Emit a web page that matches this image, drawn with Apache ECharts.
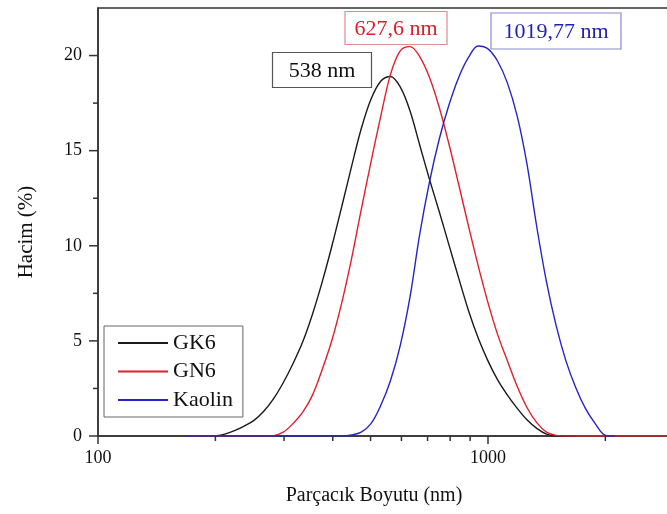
<!DOCTYPE html>
<html>
<head>
<meta charset="utf-8">
<title>Parçacık Boyutu Dağılımı</title>
<script src="https://cdn.jsdelivr.net/npm/echarts@6/dist/echarts.min.js"></script>
<style>
  html, body { margin: 0; padding: 0; background: #fff; }
  #chart { width: 667px; height: 514px; }
</style>
</head>
<body>
<div id="chart"></div>
<script>
// Particle size classes (nm), log-spaced
const sizes = [167.9, 177.8, 188.4, 199.5, 211.3, 223.9, 237.1, 251.2, 266.1, 281.8,
  298.5, 316.2, 335.0, 354.8, 375.8, 398.1, 421.7, 446.7, 473.2, 501.2,
  530.9, 562.3, 595.7, 631.0, 668.3, 707.9, 749.9, 794.3, 841.4, 891.3,
  944.1, 1000, 1059, 1122, 1189, 1259, 1334, 1413, 1496, 1585,
  1679, 1778, 1884, 1995, 2113, 2239, 2371, 2512, 2661, 2818, 2985];

// Volume (%) per size class
const gk6 = [null, null, null, 0, 0.1, 0.28, 0.52, 0.82, 1.3, 1.95,
  2.8, 3.8, 4.95, 6.4, 8.1, 10.0, 12.05, 14.15, 16.15, 17.7,
  18.65, 18.9, 18.35, 17.1, 15.3, 13.5, 11.8, 10.05, 8.3, 6.6,
  5.15, 3.95, 2.95, 2.15, 1.45, 0.85, 0.4, 0.1, 0, 0,
  0, null, null, null, null, null, null, null, null, null, null];

const gn6 = [0, 0, 0, 0, 0, 0, 0, 0, 0, 0.02,
  0.2, 0.65, 1.25, 2.15, 3.5, 5.05, 7.0, 9.3, 11.9, 14.4,
  16.8, 19.0, 20.25, 20.47, 19.95, 18.86, 17.28, 15.35, 13.22, 11.04,
  8.94, 7.01, 5.33, 3.94, 2.6, 1.5, 0.7, 0.2, 0.03, 0,
  0, 0, 0, 0, 0, 0, 0, 0, 0, 0, 0];

const kaolin = [0, 0, 0, 0, 0, 0, 0, 0, 0, 0,
  0, 0, 0, 0, 0, 0, 0, 0.05, 0.2, 0.65,
  1.6, 2.9, 4.75, 7.3, 10.6, 13.35, 15.6, 17.4, 18.85, 19.9,
  20.5, 20.35, 19.7, 18.55, 16.8, 14.3, 11.0, 8.1, 5.8, 3.95,
  2.55, 1.45, 0.65, 0.05, 0, null, null, null, null, null, null];

const seriesNames = ['GK6', 'GN6', 'Kaolin'];
const seriesColors = ['#1a1a1a', '#e0202c', '#2424c8'];

// Axis ticks and labels
const xMajorTicks = [100, 1000];
const xMinorTicks = [200, 300, 400, 500, 600, 700, 800, 900, 2000, 3000];
const yTicks = [0, 2.5, 5, 7.5, 10, 12.5, 15, 17.5, 20];

// Mean size annotations
const annotations = ['538 nm', '627,6 nm', '1019,77 nm'];

const SERIF = '"Liberation Serif", "Times New Roman", serif';
const AXIS_COLOR = '#333';

const chart = echarts.init(document.getElementById('chart'), null, { renderer: 'canvas' });

function pairs(vals) {
  return sizes.map((s, i) => [s, vals[i]]);
}

const lineSeries = [gk6, gn6, kaolin].map((vals, i) => ({
  name: seriesNames[i],
  type: 'line',
  data: pairs(vals),
  smooth: 0.35,
  symbol: 'none',
  showSymbol: false,
  connectNulls: false,
  lineStyle: { color: seriesColors[i], width: 1.4 },
  itemStyle: { color: seriesColors[i] },
  z: 3 + i
}));

// Minor ticks on the log axis (2..9 per decade) and all y ticks
const xTickSeries = {
  type: 'custom',
  silent: true,
  clip: false,
  data: xMinorTicks.map(v => [v, 0]),
  renderItem(params, api) {
    const p = api.coord([api.value(0), api.value(1)]);
    return {
      type: 'line',
      shape: { x1: p[0], y1: p[1], x2: p[0], y2: p[1] + 5 },
      style: { stroke: AXIS_COLOR, lineWidth: 1.5 }
    };
  },
  z: 10
};

const yTickSeries = {
  type: 'custom',
  silent: true,
  clip: false,
  data: yTicks.map(v => [100, v]),
  renderItem(params, api) {
    const v = api.value(1);
    const p = api.coord([api.value(0), v]);
    const len = (v % 5 === 0) ? 9 : 5;
    return {
      type: 'line',
      shape: { x1: p[0] - len, y1: p[1], x2: p[0], y2: p[1] },
      style: { stroke: AXIS_COLOR, lineWidth: 1.5 }
    };
  },
  z: 10
};

// Annotation boxes
const boxStyles = [
  { cx: 322, cy: 70, w: 99, h: 35, text: '#111', border: '#555' },
  { cx: 396, cy: 28, w: 102, h: 33, text: '#d9202a', border: '#e58a8e' },
  { cx: 556, cy: 31, w: 130, h: 36, text: '#2222b0', border: '#8a8ad0' }
];
const graphics = [];
annotations.forEach((t, i) => {
  const b = boxStyles[i];
  graphics.push({
    type: 'rect',
    shape: { x: b.cx - b.w / 2, y: b.cy - b.h / 2, width: b.w, height: b.h },
    style: { fill: '#fff', stroke: b.border, lineWidth: 1.2 },
    z: 50
  });
  graphics.push({
    type: 'text',
    x: b.cx, y: b.cy + 1,
    style: {
      text: t, fill: b.text, font: '22px ' + SERIF,
      align: 'center', verticalAlign: 'middle'
    },
    z: 51
  });
});

const option = {
  backgroundColor: '#fff',
  animation: false,
  grid: {
    left: 98, top: 8, width: 576, height: 428,
    containLabel: false,
    outerBoundsMode: 'none',
    show: true, borderColor: AXIS_COLOR, borderWidth: 1.5,
    backgroundColor: 'transparent'
  },
  legend: {
    data: seriesNames,
    orient: 'vertical',
    left: 104, top: 326,
    itemWidth: 50, itemHeight: 14, itemGap: 4.5,
    padding: [5, 10, 5, 13],
    borderColor: '#666', borderWidth: 1,
    backgroundColor: '#fff',
    itemStyle: { opacity: 0 },
    textStyle: { fontFamily: SERIF, fontSize: 22, color: '#111', lineHeight: 24 },
    selectedMode: false
  },
  xAxis: {
    type: 'log',
    logBase: 10,
    min: 100, max: 3000,
    name: 'Parçacık Boyutu (nm)',
    nameLocation: 'middle',
    nameGap: 50,
    nameTextStyle: { fontFamily: SERIF, fontSize: 20, color: '#111', padding: [0, 24, 0, 0] },
    axisLine: { show: true, lineStyle: { color: AXIS_COLOR, width: 1.5 } },
    axisTick: { show: true, length: 8, inside: false, lineStyle: { color: AXIS_COLOR, width: 1.5 } },
    axisLabel: {
      margin: 13,
      fontFamily: SERIF, fontSize: 18, color: '#111',
      formatter: v => (xMajorTicks.some(t => Math.abs(t - v) < 1e-6 * t) ? String(Math.round(v)) : '')
    },
    splitLine: { show: false },
    minorTick: { show: false }
  },
  yAxis: {
    type: 'value',
    min: 0, max: 22.5, interval: 5,
    name: 'Hacim (%)',
    nameLocation: 'middle',
    nameGap: 61,
    nameTextStyle: { fontFamily: SERIF, fontSize: 21, color: '#111', padding: [0, 20, 0, 0] },
    axisLine: { show: true, lineStyle: { color: AXIS_COLOR, width: 1.5 } },
    axisTick: { show: false },
    axisLabel: {
      margin: 16,
      fontFamily: SERIF, fontSize: 18, color: '#111',
      formatter: v => (v % 5 === 0 ? String(v) : '')
    },
    splitLine: { show: false }
  },
  series: lineSeries.concat([xTickSeries, yTickSeries]),
  graphic: graphics
};

chart.setOption(option);
</script>
</body>
</html>
